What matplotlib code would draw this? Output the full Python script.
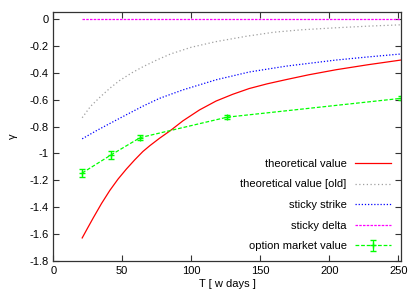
import numpy as np
import matplotlib
matplotlib.use('Agg')
from matplotlib import pyplot as plt

# curve samples
t_theory = [21, 25, 29, 35, 41, 47, 53, 59, 65, 70, 77, 85, 94, 106, 118, 130,
            142, 155, 169, 185, 205, 228, 252]
theory = [-1.628, -1.553, -1.479, -1.372, -1.275, -1.19, -1.116, -1.048, -0.985,
          -0.942, -0.887, -0.829, -0.757, -0.676, -0.61, -0.56, -0.517, -0.482,
          -0.45, -0.415, -0.377, -0.34, -0.305]

t_old = [21, 27, 34, 41, 48, 57, 65, 75, 85, 100, 118, 140, 160, 180, 205, 228, 252]
theory_old = [-0.734, -0.65, -0.58, -0.515, -0.458, -0.40, -0.355, -0.305, -0.26,
              -0.21, -0.168, -0.128, -0.098, -0.08, -0.065, -0.053, -0.043]

t_strike = [21, 31, 41, 53, 65, 77, 94, 118, 142, 169, 205, 228, 252]
sticky_strike = [-0.891, -0.832, -0.777, -0.712, -0.648, -0.59, -0.527, -0.452,
                 -0.394, -0.35, -0.305, -0.282, -0.26]

t_delta = [21, 252]
sticky_delta = [-0.001, -0.001]

t_market = [21, 42, 63, 126, 252]
market = [-1.145, -1.01, -0.882, -0.73, -0.59]
market_err = [0.03, 0.03, 0.02, 0.015, 0.015]

plt.rcParams['font.family'] = ['Liberation Sans', 'DejaVu Sans']
plt.rcParams['font.size'] = 8

fig = plt.figure(figsize=(4.19, 2.93), dpi=100)
ax = fig.add_axes([0.127, 0.109, 0.830, 0.849])

ax.plot(t_theory, theory, color='#ff0000', lw=0.9, label='theoretical value')
ax.plot(t_old, theory_old, color='#a0a0a0', lw=0.9, ls=(0, (1, 2)),
        label='theoretical value [old]')
ax.plot(t_strike, sticky_strike, color='#0000ff', lw=0.9, ls=(0, (1, 1.5)),
        label='sticky strike')
ax.plot(t_delta, sticky_delta, color='#ff00ff', lw=0.9, ls=(0, (2, 1)),
        label='sticky delta')
ax.errorbar(t_market, market, yerr=market_err, color='#00ff00', lw=0.9,
            ls=(0, (3, 1.5)), marker='+', ms=5, capsize=2, elinewidth=0.9,
            label='option market value')

ax.set_xlim(0, 252)
ax.set_ylim(-1.8, 0.05)
ax.set_xticks([0, 50, 100, 150, 200, 250])
ax.set_yticks(np.arange(-1.8, 0.01, 0.2))
ax.set_yticklabels(['-1.8', '-1.6', '-1.4', '-1.2', '-1', '-0.8', '-0.6',
                    '-0.4', '-0.2', '0'])
ax.tick_params(direction='in', top=True, right=True, length=4, width=0.8,
               colors='#333333', labelcolor='black')
for s in ax.spines.values():
    s.set_color('#333333')
    s.set_linewidth(0.9)

ax.set_xlabel('T [ w days ]', labelpad=2)
ax.set_ylabel('γ', labelpad=8)

ax.legend(loc='lower right', frameon=False, markerfirst=False,
          handlelength=3.2, labelspacing=0.95, borderaxespad=0.5,
          handletextpad=0.8)

plt.savefig('out.png', dpi=100)
